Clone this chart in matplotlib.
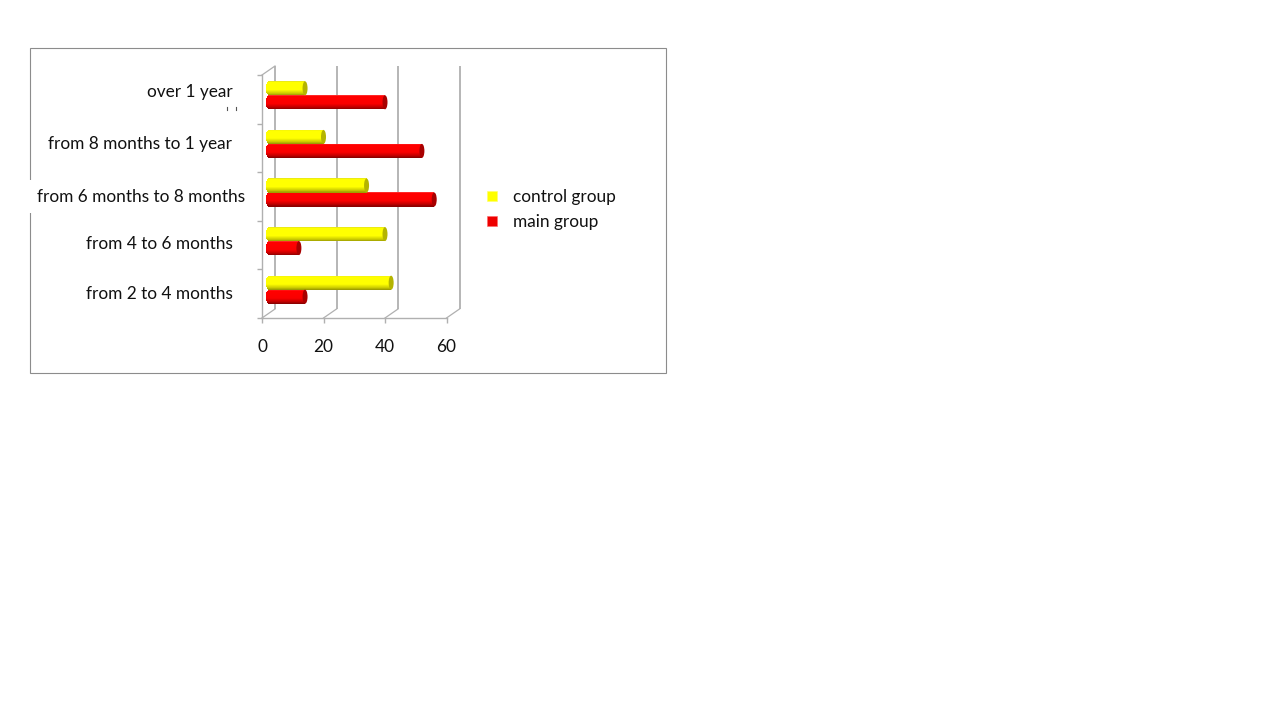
import numpy as np
import matplotlib
matplotlib.use("Agg")
import matplotlib.pyplot as plt
from matplotlib.patches import Rectangle, Ellipse
from matplotlib.lines import Line2D
from matplotlib.transforms import Affine2D, ScaledTranslation

# ---- data -------------------------------------------------------------
categories = ["from 2 to 4 months", "from 4 to 6 months", "from 6 months to 8 months",
              "from 8 months to 1 year", "over 1 year"]
control_group = [42, 40, 34, 20, 14]
main_group = [14, 12, 56, 52, 40]
x_ticks = [0, 20, 40, 60]
series_names = ["control group", "main group"]

# ---- style ------------------------------------------------------------
plt.rcParams["font.family"] = ["Lato", "DejaVu Sans"]
W, H = 1280, 720
fig = plt.figure(figsize=(W / 100, H / 100), dpi=100, facecolor="white")
px = Affine2D().scale(1 / W, -1 / H).translate(0, 1) + fig.transFigure

TXT = "#111111"
GRID = "#b0b0b0"
FS = 12.4

# frame, with the white patch behind the middle label that interrupts it
fig.add_artist(Rectangle((29.8, 47.8), 636, 325, transform=px, fill=False,
                         ec="#8c8c8c", lw=0.8, zorder=-3))
fig.add_artist(Rectangle((18, 180), 230, 33, transform=px, fc="white", ec="none", zorder=-2))

ax = fig.add_axes([262 / W, 1 - 318 / H, 184.5 / W, 243 / H], facecolor="none")
ax.set_xlim(0, 60)
ax.set_ylim(0, len(categories))
pxu = 184.5 / 60          # pixels per data unit, x
pyu = 243 / len(categories)  # pixels per data unit, y

for s in ("top", "right"):
    ax.spines[s].set_visible(False)
for s in ("left", "bottom"):
    ax.spines[s].set_color(GRID)
    ax.spines[s].set_linewidth(1.0)
ax.set_xticks(x_ticks)
ax.set_yticks(np.arange(len(categories) + 1))
ax.set_yticklabels([])
ax.tick_params(axis="both", color=GRID, width=1.0, length=3.6)
ax.tick_params(axis="x", labelsize=FS, labelcolor=TXT, pad=11.5)

# back wall of the 3-D box
DX, DY = 13 / 100, 9 / 100
back = ax.transData + ScaledTranslation(DX, DY, fig.dpi_scale_trans)
ax.vlines(x_ticks, 0, len(categories), transform=back, color=GRID, lw=1.3, zorder=1, clip_on=False)
for xv in x_ticks:
    ax.add_line(Line2D([xv, xv + 13 / pxu], [0, 9 / pyu], color=GRID, lw=0.9, clip_on=False, zorder=1))
ax.add_line(Line2D([0, 13 / pxu], [len(categories), len(categories) + 9 / pyu],
                   color=GRID, lw=0.9, clip_on=False, zorder=1))

# cylinder bars, built from thin shaded slices
stops = [0, 0.08, 0.2, 0.6, 0.85, 1]
shades = {
    "control": [(0.90, 0.90, 0.10), (1, 1, 0), (1, 1, 0), (1, 1, 0), (0.80, 0.80, 0), (0.60, 0.60, 0)],
    "main": [(1, 0.20, 0.20), (1, 0, 0), (1, 0, 0), (0.98, 0, 0), (0.75, 0, 0), (0.52, 0, 0)],
}
caps = {"control": "#b4b400", "main": "#a80000"}
BAR_H = 14 / pyu
RX = 2.5 / pxu
BASE = 7.5 / pxu
LIFT = 4 / pyu
N = 28


def cylinder(yc, value, kind):
    shade = np.array(shades[kind])
    h = BAR_H / N
    for i in range(N):
        t = (i + 0.5) / N
        col = [np.interp(t, stops, shade[:, c]) for c in range(3)]
        r = np.sqrt(1 - (2 * t - 1) ** 2)
        left = BASE - 2 * RX * r * 0.8
        right = value
        ax.barh(yc + BAR_H / 2 - (i + 0.5) * h, right - left, left=left, height=h * 1.25,
                color=col, lw=0, zorder=3, clip_on=False)
    ax.add_patch(Ellipse((value, yc), 2 * RX, BAR_H, fc=caps[kind], ec="none", zorder=4, clip_on=False))


for i, (c, m) in enumerate(zip(control_group, main_group)):
    mid = i + 0.5 + LIFT
    cylinder(mid - BAR_H / 2, m, "main")
    cylinder(mid + BAR_H / 2, c, "control")

# category labels sit where the slide placed them by hand
label_right = [233, 233, 245, 232, 233]
label_y = [294, 244, 197, 144, 92]
for name, xr, yl in zip(categories, label_right, label_y):
    fig.text(xr, yl, name, transform=px, ha="right", va="center", fontsize=FS, color=TXT, zorder=5)
# clipped remains of a hidden label under "over 1 year"
for xd in (227, 236):
    fig.add_artist(Line2D([xd, xd], [107, 109.5], transform=px, color="#555555", lw=0.8, zorder=5))

# legend
handles = [Line2D([], [], ls="", marker="s", ms=7.2, color="#ffff00", mec="#ffff66", mew=0.4),
           Line2D([], [], ls="", marker="s", ms=7.2, color="#ee0000", mec="#ff6666", mew=0.4)]
leg = fig.legend(handles, series_names, loc="center left", frameon=False, fontsize=FS,
                 labelcolor=TXT, bbox_to_anchor=(483 / W, 1 - 209.5 / H), labelspacing=0.5,
                 handletextpad=0.62, handlelength=1.1, borderpad=0, borderaxespad=0)

fig.savefig("out.png", dpi=100)
